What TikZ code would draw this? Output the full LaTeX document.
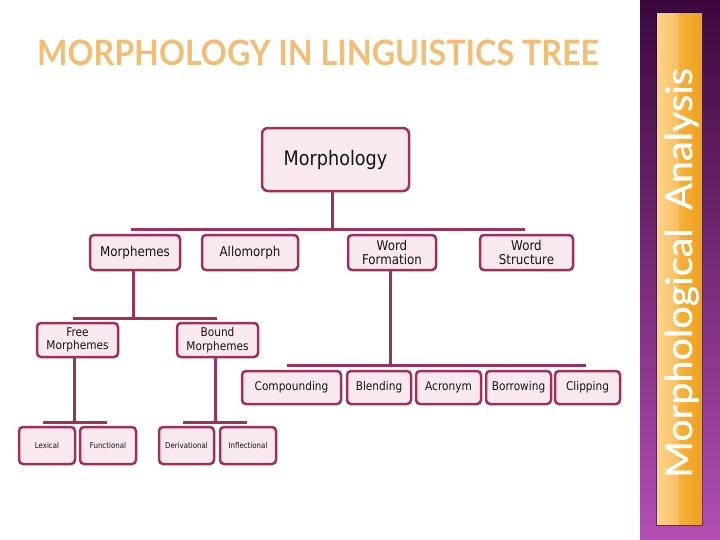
\documentclass[tikz,border=0pt]{standalone}
\usepackage{fontspec}
\setmainfont{DejaVu Sans}[FakeStretch=0.88]
\newfontfamily\titlefont{Lato}[FakeStretch=0.92]
\newfontfamily\sidefont{Lato}[FakeStretch=1.07, FakeBold=0.8]
\definecolor{boxline}{RGB}{158,48,92}
\definecolor{boxfill}{RGB}{247,233,239}
\definecolor{boxtext}{RGB}{20,20,20}
\definecolor{titlecol}{RGB}{242,190,118}
\definecolor{purpTop}{RGB}{60,8,62}
\definecolor{purpBot}{RGB}{178,78,178}
\definecolor{orA}{RGB}{253,212,140}
\definecolor{orB}{RGB}{249,190,96}
\definecolor{orC}{RGB}{246,176,58}
\definecolor{orD}{RGB}{238,160,30}
\begin{document}
\begin{tikzpicture}[x=1pt,y=-1pt,
  box/.style={draw=boxline, fill=boxfill, line width=2.5pt, rounded corners=4pt,
    inner sep=1pt, align=center, text=boxtext},
  link/.style={draw=boxline, line width=3pt},
  fA/.style={font=\fontsize{20}{24}\selectfont},
  fB/.style={font=\fontsize{13.5}{14}\selectfont},
  fC/.style={font=\fontsize{12}{13.5}\selectfont},
  fD/.style={font=\fontsize{8}{9}\selectfont}]
\useasboundingbox (0,0) rectangle (720,539);
\fill[white] (0,0) rectangle (720,539);
% side bar
\shade[top color=purpTop, bottom color=purpBot] (640,0) rectangle (720,539);
\fill[black!60!purpTop, opacity=0.5] (656,12) rectangle (703,526);
\shade[left color=orA, right color=orB] (657,13) rectangle (679,524);
\shade[left color=orC, right color=orD] (679,13) rectangle (702,524);
\node[rotate=90, anchor=base, text=white, font=\sidefont\fontsize{37}{42}\selectfont]
  (side) at (692,273) {Morphological\hspace{0.5em}Analysis};
% title
\node[anchor=base, text=titlecol, font=\titlefont\bfseries\fontsize{35}{40}\selectfont]
  (title) at (318,65) {MORPHOLOGY IN LINGUISTICS TREE};
% level 1
\node[box, fA, rounded corners=6pt, minimum width=147pt, minimum height=63pt] (morph) at (335.5,159.5) {Morphology};
% level 2
\node[box, fB, minimum width=90pt, minimum height=35pt] (mphm) at (135,252.5) {Morphemes};
\node[box, fB, minimum width=96pt, minimum height=35pt] (allo) at (250,252.5) {Allomorph};
\node[box, fB, minimum width=88pt, minimum height=35pt] (wform) at (392,252.5) {Word\\Formation};
\node[box, fB, minimum width=93pt, minimum height=35pt] (wstruct) at (526.5,252.5) {Word\\Structure};
% level 3
\node[box, fC, minimum width=81pt, minimum height=34pt] (free) at (77.5,340) {Free\\Morphemes};
\node[box, fC, minimum width=81pt, minimum height=34pt] (bound) at (217.5,340) {Bound\\Morphemes};
% level 4
\node[box, fD, minimum width=56pt, minimum height=37pt] (lex) at (47,445.5) {Lexical};
\node[box, fD, minimum width=56pt, minimum height=37pt] (func) at (108,445.5) {Functional};
\node[box, fD, minimum width=55pt, minimum height=37pt] (deriv) at (186.5,445.5) {Derivational};
\node[box, fD, minimum width=56pt, minimum height=37pt] (infl) at (248,445.5) {Inflectional};
% word formation children
\node[box, fC, minimum width=99pt, minimum height=33pt] (comp) at (291.5,387.5) {Compounding};
\node[box, fC, minimum width=64pt, minimum height=33pt] (blend) at (379,387.5) {Blending};
\node[box, fC, minimum width=65pt, minimum height=33pt] (acro) at (448.5,387.5) {Acronym};
\node[box, fC, minimum width=65pt, minimum height=33pt] (borr) at (518.5,387.5) {Borrowing};
\node[box, fC, minimum width=65pt, minimum height=33pt] (clip) at (587.5,387.5) {Clipping};
% bars
\coordinate (b1L) at (131,229); \coordinate (b1R) at (525,229);
\coordinate (b2L) at (73,318);  \coordinate (b2R) at (217,318);
\coordinate (b3L) at (43,422);  \coordinate (b3R) at (107,422);
\coordinate (b4L) at (183,422); \coordinate (b4R) at (247,422);
\coordinate (b5L) at (287,365); \coordinate (b5R) at (586,365);
\draw[link] (b1L) -- (b1R);
\draw[link] (b2L) -- (b2R);
\draw[link] (b3L) -- (b3R);
\draw[link] (b4L) -- (b4R);
\draw[link] (b5L) -- (b5R);
\draw[link] ([xshift=-3pt]morph.south) -- ([xshift=-3pt]morph.south |- b1L);
\draw[link] ([xshift=-2pt]mphm.south) -- ([xshift=-2pt]mphm.south |- b2L);
\draw[link] ([xshift=-3pt]free.south) -- ([xshift=-3pt]free.south |- b3L);
\draw[link] ([xshift=-2pt]bound.south) -- ([xshift=-2pt]bound.south |- b4L);
\draw[link] ([xshift=-2pt]wform.south) -- ([xshift=-2pt]wform.south |- b5L);
\end{tikzpicture}
\end{document}
